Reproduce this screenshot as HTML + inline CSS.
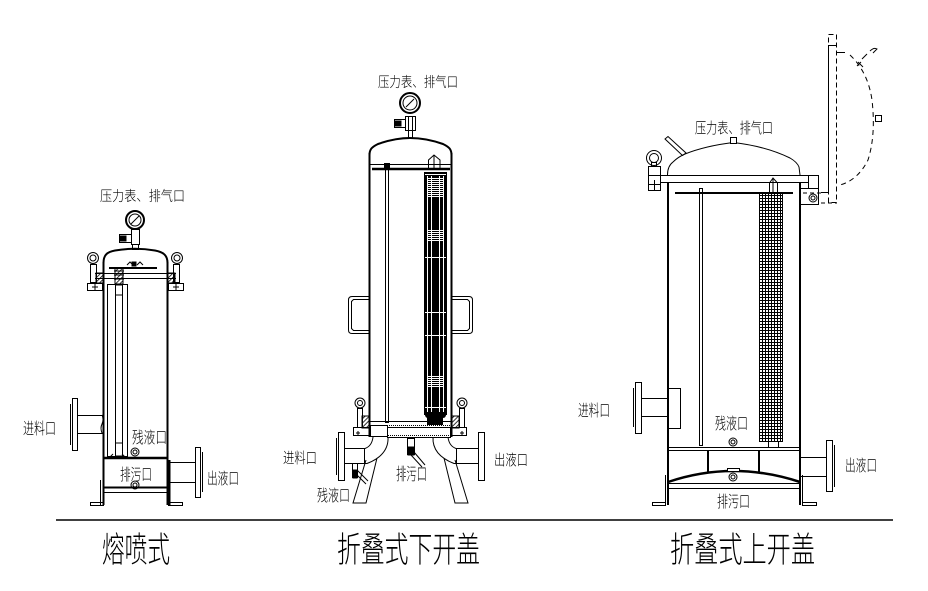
<!DOCTYPE html>
<html><head><meta charset="utf-8"><style>
html,body{margin:0;padding:0;background:#fff;}
svg{display:block;}
.t{font-family:"Liberation Sans","Noto Sans CJK SC","WenQuanYi Zen Hei",sans-serif;fill:#000;stroke:none;font-weight:300;}
</style></head><body>
<svg width="928" height="591" viewBox="0 0 928 591" xmlns="http://www.w3.org/2000/svg">
<defs>
<pattern id="h" width="3" height="3" patternUnits="userSpaceOnUse" patternTransform="rotate(45)"><line x1="0" y1="0" x2="0" y2="3" stroke="#000" stroke-width="1.6"/></pattern>
<pattern id="m" width="3" height="3" patternUnits="userSpaceOnUse"><path d="M0 0.5H3M0.5 0V3" stroke="#000" stroke-width="1" fill="none"/></pattern>
<pattern id="st" width="4" height="2" patternUnits="userSpaceOnUse"><rect x="0" y="0" width="4" height="1" fill="#fff"/></pattern>
</defs>
<rect width="928" height="591" fill="#fff"/>

<!-- ============ FILTER 1 熔喷式 ============ -->
<g stroke="#000" fill="none" stroke-width="1">
 <!-- gauge -->
 <circle cx="135" cy="220" r="9" stroke-width="2"/>
 <circle cx="135" cy="220" r="6"/>
 <line x1="131" y1="224" x2="139" y2="216"/>
 <rect x="131.5" y="229.5" width="8" height="15"/>
 <rect x="119.5" y="234.5" width="12" height="8"/>
 <rect x="120" y="236" width="6" height="5" fill="#000"/>
 <rect x="132.5" y="244.5" width="6" height="5"/>
 <!-- dome -->
 <path d="M103.5 263 C103.5 255 107 252 115 250.5 Q135 247 155 250.5 C163 252 167.5 255 167.5 263" stroke-width="2"/>
 <line x1="109" y1="268" x2="157" y2="268" stroke-width="2"/>
 <path d="M127 265 l3 -3 l3 3 M137 265 l3 -3 l3 3"/>
 <rect x="132" y="262" width="4" height="4" fill="#000"/>
 <!-- flanges -->
 <line x1="95" y1="273.5" x2="176" y2="273.5"/>
 <line x1="95" y1="278.5" x2="176" y2="278.5"/>
 <rect x="96" y="273" width="7" height="10" fill="url(#h)"/>
 <rect x="96.5" y="273.5" width="6.5" height="9.5"/>
 <rect x="168" y="273" width="7" height="10" fill="url(#h)"/>
 <rect x="168" y="273.5" width="6.5" height="9.5"/>
 <!-- ears -->
 <circle cx="93" cy="258" r="5.5"/><circle cx="93" cy="258" r="3"/>
 <rect x="90.5" y="264.5" width="6" height="18"/>
 <rect x="87.5" y="283.5" width="15" height="7"/>
 <path d="M95 284 v6 M92 287 h6"/>
 <circle cx="177" cy="258" r="5.5"/><circle cx="177" cy="258" r="3"/>
 <rect x="173.5" y="264.5" width="6" height="18"/>
 <rect x="168.5" y="283.5" width="15" height="7"/>
 <path d="M176 284 v6 M173 287 h6"/>
 <!-- spring -->
 <rect x="115" y="268" width="8" height="16" fill="url(#h)"/>
 <path d="M114 271h10M114 275h10M114 279h10"/>
 <!-- walls -->
 <line x1="103.5" y1="262" x2="103.5" y2="458" stroke-width="2"/>
 <line x1="167.5" y1="262" x2="167.5" y2="505" stroke-width="2"/>
 <!-- element -->
 <rect x="107.5" y="284.5" width="20" height="172"/>
 <line x1="115.5" y1="285" x2="115.5" y2="457"/>
 <line x1="122.5" y1="285" x2="122.5" y2="457"/>
 <rect x="115.5" y="285" width="7" height="10" fill="#fff"/>
 <rect x="115.5" y="443" width="7" height="13"/>
 <path d="M110 457 l3 -3 M125 457 l-3 -3"/>
 <!-- lower -->
 <line x1="103" y1="458" x2="168" y2="458" stroke-width="2.5"/>
 <line x1="103" y1="487.5" x2="168" y2="487.5" stroke-width="2"/>
 <line x1="103" y1="492.5" x2="168" y2="492.5"/>
 <line x1="103.5" y1="458" x2="103.5" y2="505" stroke-width="2"/>
 <line x1="100.5" y1="480" x2="100.5" y2="505"/>
 <rect x="90.5" y="502.5" width="13" height="3"/>
 <line x1="169.5" y1="460" x2="169.5" y2="505" stroke-width="2"/>
 <rect x="168.5" y="502.5" width="14" height="3"/>
 <circle cx="135" cy="452" r="4"/><circle cx="135" cy="452" r="2"/>
 <circle cx="135" cy="485" r="4"/><circle cx="135" cy="485" r="2"/>
 <!-- inlet -->
 <rect x="72.5" y="398.5" width="5" height="52"/>
 <line x1="70.5" y1="404" x2="70.5" y2="445"/>
 <line x1="77" y1="415.5" x2="103" y2="415.5"/>
 <line x1="77" y1="433.5" x2="103" y2="433.5"/>
 <path d="M102 415 q2 4 0 9 q-2 4 0 9"/>
 <!-- outlet -->
 <line x1="169" y1="462.5" x2="195" y2="462.5"/>
 <line x1="169" y1="482.5" x2="195" y2="482.5"/>
 <rect x="195.5" y="447.5" width="5" height="50"/>
 <line x1="202.5" y1="452" x2="202.5" y2="492"/>
</g>
<text class="t" x="100" y="201" font-size="14" textLength="85" lengthAdjust="spacingAndGlyphs">压力表、排气口</text>
<text class="t" x="23" y="434" font-size="16" textLength="33" lengthAdjust="spacingAndGlyphs">进料口</text>
<text class="t" x="132" y="443" font-size="16" textLength="35" lengthAdjust="spacingAndGlyphs">残液口</text>
<text class="t" x="120" y="480" font-size="16" textLength="32" lengthAdjust="spacingAndGlyphs">排污口</text>
<text class="t" x="207" y="484" font-size="16" textLength="32" lengthAdjust="spacingAndGlyphs">出液口</text>

<!-- ============ FILTER 2 折叠式下开盖 ============ -->
<g stroke="#000" fill="none" stroke-width="1">
 <!-- gauge -->
 <circle cx="410" cy="103" r="10" stroke-width="2"/>
 <circle cx="410" cy="103" r="7"/>
 <line x1="406" y1="107" x2="414" y2="99"/>
 <rect x="405.5" y="116.5" width="10" height="14"/>
 <line x1="408.5" y1="117" x2="408.5" y2="130"/><line x1="412.5" y1="117" x2="412.5" y2="130"/>
 <rect x="394.5" y="119.5" width="11" height="8"/>
 <rect x="395" y="121" width="6" height="5" fill="#000"/>
 <rect x="408.5" y="130.5" width="4" height="8"/>
 <!-- dome -->
 <path d="M369.5 155 C369.5 149 372 147 378 144 Q395 138 410 138 Q426 138 443 144 C449 147 451.5 149 451.5 155" stroke-width="2"/>
 <line x1="370" y1="164.5" x2="451" y2="164.5"/>
 <line x1="372" y1="169" x2="450" y2="169" stroke-width="2.5"/>
 <rect x="384.5" y="163.5" width="5" height="6" fill="#000"/>
 <!-- walls -->
 <line x1="369.5" y1="153" x2="369.5" y2="437" stroke-width="2"/>
 <line x1="451.5" y1="153" x2="451.5" y2="437" stroke-width="2"/>
 <!-- tube -->
 <rect x="385.5" y="169.5" width="3" height="253"/>
 <!-- element spike -->
 <path d="M428.5 169 V160 L434 155 L440 160 V169 M434 155 V169"/>
 <!-- handles -->
 <path d="M369 296.5 H352 Q348.5 296.5 348.5 300 V330 Q348.5 333.5 352 333.5 H369"/>
 <path d="M369 299.5 H353.5 L351.5 301.5 V328.5 L353.5 330.5 H369"/>
 <path d="M452 296.5 H469 Q472.5 296.5 472.5 300 V330 Q472.5 333.5 469 333.5 H452"/>
 <path d="M452 299.5 H467.5 L469.5 301.5 V328.5 L467.5 330.5 H452"/>
</g>
<!-- element body -->
<rect x="424" y="172" width="23" height="243" fill="#000"/>
<rect x="425" y="412" width="21" height="6" rx="3" fill="#000"/>
<g stroke="#fff" stroke-width="1">
 <line x1="427.5" y1="176" x2="427.5" y2="412"/>
 <line x1="431.5" y1="176" x2="431.5" y2="412"/>
 <line x1="439.5" y1="176" x2="439.5" y2="412"/>
 <line x1="443.5" y1="176" x2="443.5" y2="412"/>
 <line x1="425" y1="257.5" x2="446" y2="257.5"/>
 <line x1="425" y1="312.5" x2="446" y2="312.5"/>
 <line x1="425" y1="335.5" x2="446" y2="335.5"/>
 <line x1="425" y1="407.5" x2="446" y2="407.5"/>
 <line x1="425" y1="174.5" x2="446" y2="174.5"/>
</g>
<rect x="428" y="178" width="15" height="19" fill="url(#st)"/>
<rect x="428" y="230" width="15" height="12" fill="url(#st)"/>
<rect x="428" y="375" width="15" height="13" fill="url(#st)"/>
<rect x="427" y="417" width="16" height="8" fill="#000"/>
<g stroke="#000" fill="none" stroke-width="1">
 <!-- bottom flange area -->
 <line x1="369" y1="421.5" x2="452" y2="421.5"/>
 <line x1="369" y1="425.5" x2="452" y2="425.5" stroke-dasharray="1 1"/>
 <rect x="362" y="416" width="7" height="12" fill="url(#h)"/>
 <rect x="452" y="416" width="7" height="12" fill="url(#h)"/>
 <rect x="353.5" y="427.5" width="113" height="8"/>
 <rect x="370.5" y="425.5" width="17" height="11" fill="#fff"/>
 <rect x="387.5" y="427.5" width="63" height="10" fill="#fff"/>
 <line x1="388" y1="435.5" x2="450" y2="435.5" stroke-dasharray="1 1"/>
 <path d="M358 431 v4 M356 433 h4 M462 431 v4 M460 433 h4"/>
 <!-- ears -->
 <circle cx="360" cy="403" r="5"/><circle cx="360" cy="403" r="2.5"/>
 <rect x="357.5" y="408.5" width="5" height="19"/>
 <circle cx="462" cy="403" r="5"/><circle cx="462" cy="403" r="2.5"/>
 <rect x="459.5" y="408.5" width="5" height="19"/>
 <!-- drain -->
 <rect x="407.5" y="438.5" width="7" height="16"/>
 <rect x="408" y="447" width="6" height="8" fill="#000"/>
 <line x1="414" y1="452" x2="425" y2="465"/>
 <line x1="411" y1="455" x2="422" y2="467"/>
 <!-- left elbow + pipe -->
 <path d="M373 437 Q372 446 365 448.5 H345"/>
 <path d="M388 437 Q389 455 367 463.5 H345"/>
 <line x1="364.5" y1="448" x2="364.5" y2="463"/>
 <rect x="338.5" y="432.5" width="6" height="48"/>
 <line x1="336.5" y1="438" x2="336.5" y2="475"/>
 <!-- right elbow + pipe -->
 <path d="M448 437 Q449 446 456 448.5 H478"/>
 <path d="M433 437 Q432 455 454 463.5 H478"/>
 <line x1="456.5" y1="448" x2="456.5" y2="463"/>
 <rect x="478.5" y="432.5" width="6" height="48"/>
 <!-- legs -->
 <path d="M366 460 L353 503 H366 L377 458"/>
 <path d="M455 460 L468 503 H455 L444 458"/>
 <!-- residual valve -->
 <rect x="352.5" y="463.5" width="5" height="14"/>
 <rect x="353" y="470" width="4" height="8" fill="#000"/>
 <line x1="357" y1="470" x2="368" y2="481"/>
 <line x1="355" y1="473" x2="366" y2="484"/>
</g>
<text class="t" x="378" y="87" font-size="14" textLength="80" lengthAdjust="spacingAndGlyphs">压力表、排气口</text>
<text class="t" x="283" y="463" font-size="15" textLength="34" lengthAdjust="spacingAndGlyphs">进料口</text>
<text class="t" x="317" y="501" font-size="16" textLength="33" lengthAdjust="spacingAndGlyphs">残液口</text>
<text class="t" x="396" y="480" font-size="17" textLength="31" lengthAdjust="spacingAndGlyphs">排污口</text>
<text class="t" x="494" y="465" font-size="15" textLength="34" lengthAdjust="spacingAndGlyphs">出液口</text>

<!-- ============ FILTER 3 折叠式上开盖 ============ -->
<g stroke="#000" fill="none" stroke-width="1">
 <!-- dome -->
 <path d="M667.5 175 C667.5 169 669 165 673 162 Q678 157 685 154 Q705 146 733 142.5 Q765 146 790 158 Q797 162 799 167 L800 175"/>
 <rect x="730.5" y="137.5" width="6" height="6" fill="#fff"/>
 <path d="M665 139 L668 136.5 L686 153 L682.5 155.5 Z"/>
 <!-- lid plate -->
 <rect x="648.5" y="175.5" width="160" height="7"/>
 <!-- ear -->
 <circle cx="654" cy="158" r="7.5"/><circle cx="654" cy="158" r="4.5"/>
 <rect x="651.5" y="162.5" width="5" height="4"/>
 <rect x="648.5" y="166.5" width="12" height="24" fill="#fff"/>
 <line x1="648.5" y1="175.5" x2="660.5" y2="175.5"/>
 <path d="M654.5 180 v10 M649 184.5 h11"/>
 <!-- hinge -->
 <rect x="808.5" y="175.5" width="10" height="13"/>
 <rect x="800.5" y="188.5" width="18" height="16"/>
 <circle cx="813" cy="198" r="4"/><circle cx="813" cy="198" r="2"/>
 <!-- walls -->
 <line x1="668" y1="182" x2="668" y2="505" stroke-width="2"/>
 <line x1="800" y1="182" x2="800" y2="505" stroke-width="2"/>
 <line x1="675" y1="193" x2="793" y2="193" stroke-width="2"/>
 <rect x="699.5" y="188.5" width="3" height="257"/>
 <!-- spike -->
 <path d="M769.5 193 V183 L773 178 L777.5 183 V193 M773 178 V193"/>
</g>
<rect x="759" y="193" width="24" height="249" fill="url(#m)"/>
<rect x="759.5" y="193.5" width="23" height="248" fill="none" stroke="#000"/>
<g stroke="#000" fill="none" stroke-width="1">
 <rect x="768.5" y="441.5" width="10" height="6"/>
 <!-- bottom -->
 <line x1="668" y1="447.5" x2="800" y2="447.5"/>
 <line x1="668" y1="450.5" x2="800" y2="450.5"/>
 <line x1="708" y1="450" x2="708" y2="473" stroke-width="2"/>
 <line x1="759" y1="450" x2="759" y2="473" stroke-width="2"/>
 <path d="M668 482 Q733 460 800 482" stroke-width="2.5"/>
 <line x1="668" y1="483.5" x2="800" y2="483.5"/>
 <line x1="668" y1="488.5" x2="800" y2="488.5"/>
 <rect x="727.5" y="468.5" width="12" height="3" fill="#fff"/>
 <circle cx="733" cy="442" r="4"/><circle cx="733" cy="442" r="2"/>
 <circle cx="733" cy="477" r="4"/><circle cx="733" cy="477" r="2"/>
 <!-- legs -->
 <line x1="665.5" y1="475" x2="665.5" y2="505"/>
 <rect x="652.5" y="502.5" width="13" height="3"/>
 <line x1="802.5" y1="475" x2="802.5" y2="505"/>
 <rect x="802.5" y="502.5" width="14" height="3"/>
 <!-- inlet -->
 <rect x="635.5" y="382.5" width="6" height="51"/>
 <line x1="633.5" y1="388" x2="633.5" y2="427"/>
 <line x1="641" y1="398.5" x2="668" y2="398.5"/>
 <line x1="641" y1="416.5" x2="668" y2="416.5"/>
 <rect x="668.5" y="388.5" width="12" height="40"/>
 <!-- outlet -->
 <line x1="800" y1="457.5" x2="826" y2="457.5"/>
 <line x1="800" y1="476.5" x2="826" y2="476.5"/>
 <rect x="826.5" y="440.5" width="6" height="51"/>
 <line x1="834.5" y1="445" x2="834.5" y2="487"/>
 <!-- open lid dashed -->
 <rect x="828.5" y="34.5" width="8" height="168" stroke-dasharray="5 3"/>
 <path d="M828.5 45 V192 M828.5 45.5 H836 M821 192.5 H829 M837 52.5 H845"/>
 <line x1="821" y1="193" x2="800" y2="193" stroke-dasharray="4 3"/>
 <line x1="821" y1="203" x2="837" y2="203" stroke-dasharray="4 3"/>
 <path d="M850 55 Q868 72 872 100 Q876 135 868 160 Q858 180 840 185" stroke-dasharray="5 4"/>
 <rect x="875.5" y="115.5" width="6" height="6"/>
 <path d="M857 66 L861 62 M862 59 L867 54 M870 51 Q874 47 877 49 L873 53" />
 <line x1="858" y1="62" x2="863" y2="67"/>
</g>
<text class="t" x="695" y="133" font-size="15" textLength="78" lengthAdjust="spacingAndGlyphs">压力表、排气口</text>
<text class="t" x="578" y="416" font-size="16" textLength="32" lengthAdjust="spacingAndGlyphs">进料口</text>
<text class="t" x="715" y="429" font-size="16" textLength="33" lengthAdjust="spacingAndGlyphs">残液口</text>
<text class="t" x="845" y="471" font-size="16" textLength="32" lengthAdjust="spacingAndGlyphs">出液口</text>
<text class="t" x="717" y="507" font-size="16" textLength="33" lengthAdjust="spacingAndGlyphs">排污口</text>

<!-- ============ baseline + titles ============ -->
<line x1="56" y1="520" x2="893" y2="520" stroke="#000" stroke-width="1.5"/>
<text class="t" x="102" y="562" font-size="35" textLength="68" lengthAdjust="spacingAndGlyphs">熔喷式</text>
<text class="t" x="337" y="562" font-size="35" textLength="143" lengthAdjust="spacingAndGlyphs">折叠式下开盖</text>
<text class="t" x="670" y="562" font-size="35" textLength="145" lengthAdjust="spacingAndGlyphs">折叠式上开盖</text>
</svg>
</body></html>
